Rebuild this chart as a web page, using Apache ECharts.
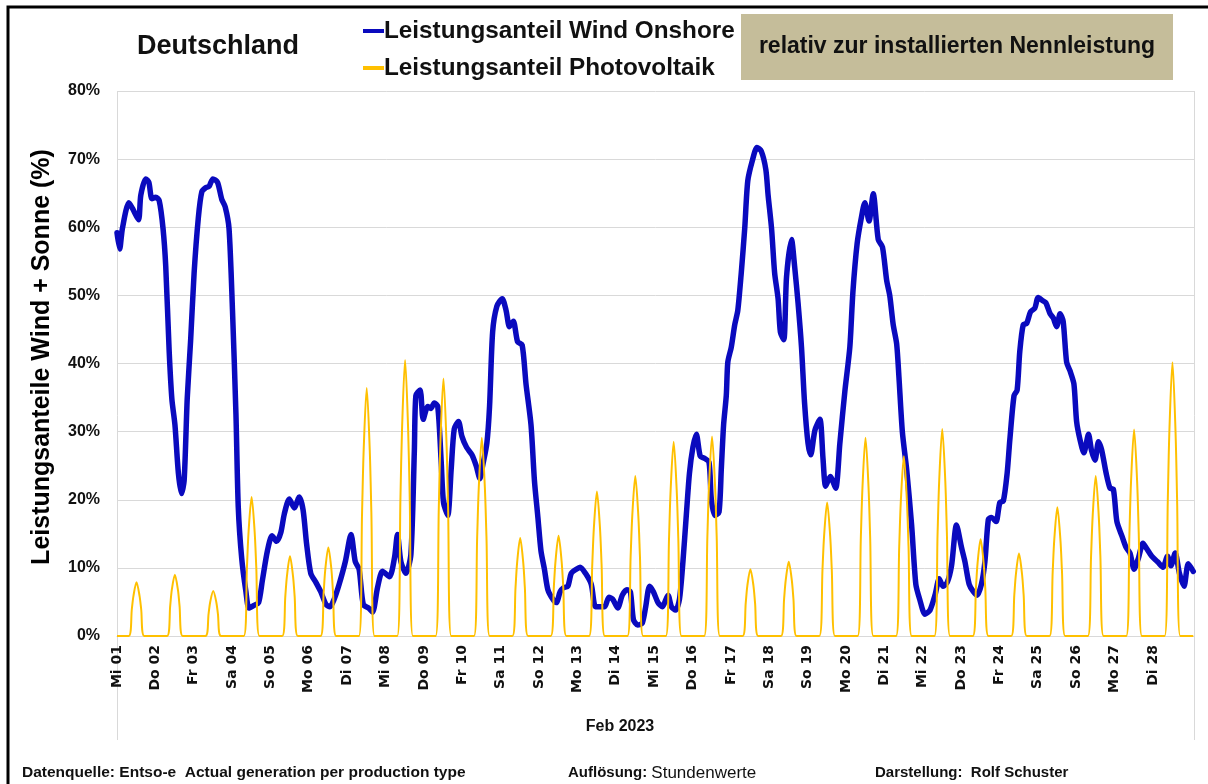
<!DOCTYPE html>
<html>
<head>
<meta charset="utf-8">
<script src="https://cdn.jsdelivr.net/npm/echarts@6/dist/echarts.min.js"></script>
<style>
html,body{margin:0;padding:0;background:#fff;}
#chart{width:1208px;height:784px;}
</style>
</head>
<body>
<div id="chart"></div>
<script>
// ---- data ----
const dayLabels = ['Mi 01','Do 02','Fr 03','Sa 04','So 05','Mo 06','Di 07','Mi 08','Do 09','Fr 10',
  'Sa 11','So 12','Mo 13','Di 14','Mi 15','Do 16','Fr 17','Sa 18','So 19','Mo 20',
  'Di 21','Mi 22','Do 23','Fr 24','Sa 25','So 26','Mo 27','Di 28'];
const yTicks = [0,10,20,30,40,50,60,70,80];

// Wind onshore share [day of month (0 = 01 Feb 00:00), percent]
const windPoints = [
 [0.00,59.2],[0.07,56.8],[0.14,59.8],[0.31,63.6],[0.40,62.8],[0.56,61.1],[0.62,64.7],[0.75,67.1],[0.83,66.6],[0.91,64.2],
 [1.01,64.4],[1.10,63.9],[1.20,59.8],[1.27,54.3],[1.36,41.8],[1.43,34.8],[1.51,31.0],[1.60,23.9],[1.68,20.9],[1.75,22.8],
 [1.83,34.8],[1.92,43.5],[2.01,53.3],[2.12,61.4],[2.21,65.2],[2.31,65.8],[2.40,66.0],[2.50,67.1],[2.62,66.6],[2.73,64.1],
 [2.82,63.0],[2.92,59.8],[3.01,47.8],[3.10,32.6],[3.16,19.0],[3.25,11.4],[3.36,6.5],[3.44,4.1],[3.57,4.5],[3.69,4.9],
 [3.79,8.2],[3.92,12.5],[4.04,14.7],[4.16,13.9],[4.27,15.2],[4.36,17.9],[4.49,20.1],[4.62,18.8],[4.75,20.4],[4.85,18.5],
 [4.94,13.6],[5.05,9.2],[5.18,7.9],[5.31,6.5],[5.45,4.6],[5.55,4.3],[5.66,5.4],[5.79,7.6],[5.95,10.9],[6.10,14.9],
 [6.21,10.9],[6.31,9.8],[6.42,4.6],[6.56,4.1],[6.66,3.5],[6.79,7.1],[6.92,9.5],[7.10,8.7],[7.23,11.4],[7.31,14.9],
 [7.40,10.9],[7.53,9.2],[7.66,12.0],[7.75,27.2],[7.79,35.3],[7.90,36.1],[7.98,31.8],[8.10,33.7],[8.18,33.4],[8.27,34.2],
 [8.36,33.7],[8.45,25.5],[8.51,19.6],[8.62,17.7],[8.71,24.5],[8.79,30.4],[8.90,31.5],[8.99,29.3],[9.11,27.7],[9.25,26.6],
 [9.36,25.0],[9.46,23.1],[9.53,25.0],[9.64,28.3],[9.71,33.7],[9.79,44.6],[9.90,48.4],[10.04,49.5],[10.14,47.8],[10.23,45.4],
 [10.33,46.2],[10.44,43.2],[10.56,42.7],[10.66,37.0],[10.79,31.0],[10.88,22.8],[10.97,17.4],[11.05,12.5],[11.14,9.8],[11.23,6.8],
 [11.36,5.4],[11.45,4.9],[11.55,6.5],[11.64,7.1],[11.75,7.3],[11.84,9.2],[11.97,9.8],[12.07,10.1],[12.21,9.2],[12.36,7.6],
 [12.47,4.3],[12.59,4.3],[12.71,4.3],[12.82,5.7],[12.92,5.4],[13.05,4.1],[13.17,6.0],[13.29,6.8],[13.38,6.5],[13.46,2.4],
 [13.57,1.6],[13.69,1.9],[13.78,4.3],[13.88,7.3],[13.98,6.5],[14.10,4.9],[14.21,4.3],[14.36,6.0],[14.45,4.3],[14.56,3.8],
 [14.66,5.4],[14.75,10.9],[14.84,17.9],[14.92,23.9],[15.01,27.7],[15.10,29.6],[15.20,26.4],[15.31,26.1],[15.43,25.5],[15.49,20.1],
 [15.58,17.7],[15.69,18.2],[15.75,24.5],[15.81,31.0],[15.88,35.3],[15.92,40.2],[16.01,42.4],[16.10,45.7],[16.18,47.8],[16.27,53.3],
 [16.36,59.8],[16.44,66.8],[16.56,69.8],[16.68,71.7],[16.79,71.2],[16.91,68.5],[16.97,64.7],[17.06,59.8],[17.14,53.3],[17.23,49.5],
 [17.29,44.6],[17.38,43.5],[17.45,52.7],[17.58,58.2],[17.66,54.3],[17.75,48.9],[17.84,42.4],[17.92,34.2],[18.01,28.3],[18.08,26.6],
 [18.19,30.2],[18.32,31.8],[18.40,26.1],[18.47,22.0],[18.59,23.4],[18.73,21.7],[18.84,28.3],[18.97,35.9],[19.10,42.4],[19.18,50.5],
 [19.29,57.6],[19.40,61.4],[19.49,63.6],[19.60,60.9],[19.71,64.9],[19.84,58.2],[19.95,57.1],[20.06,52.2],[20.14,50.0],[20.23,45.7],
 [20.32,42.9],[20.38,38.0],[20.47,29.9],[20.58,24.5],[20.71,16.3],[20.82,7.6],[20.92,5.4],[21.06,3.2],[21.19,3.8],[21.32,6.0],
 [21.43,8.4],[21.53,7.3],[21.64,7.9],[21.75,10.3],[21.88,16.3],[22.01,13.0],[22.10,10.9],[22.21,7.6],[22.32,6.5],[22.42,6.0],
 [22.53,7.6],[22.62,10.9],[22.71,17.1],[22.79,17.4],[22.91,16.8],[23.01,19.6],[23.10,19.8],[23.20,23.9],[23.27,28.8],[23.38,35.3],
 [23.46,36.1],[23.53,41.8],[23.62,45.7],[23.71,45.9],[23.81,47.6],[23.92,48.1],[24.01,49.7],[24.13,49.2],[24.21,48.9],[24.32,47.3],
 [24.40,46.7],[24.49,45.4],[24.58,47.3],[24.66,46.2],[24.75,40.2],[24.84,38.9],[24.94,37.0],[25.01,31.5],[25.10,28.8],[25.20,26.9],
 [25.32,29.6],[25.40,27.2],[25.49,25.8],[25.58,28.5],[25.66,27.4],[25.78,23.9],[25.88,21.7],[25.97,21.5],[26.06,16.8],[26.19,14.7],
 [26.30,13.0],[26.40,12.2],[26.51,9.8],[26.62,11.4],[26.74,13.6],[26.84,12.8],[26.97,11.7],[27.12,10.9],[27.26,10.1],[27.38,11.7],
 [27.47,10.3],[27.58,12.2],[27.69,9.2],[27.81,7.3],[27.92,10.6],[28.05,9.5]
];

// Photovoltaik share: hour of day of the sampled points, and per-day values at those hours
const pvHours = [7.3, 9.3, 10.3, 12.2, 14.1, 15.1, 17.1];
const pvDaily = [
 [0,4.0,5.9,7.9,5.9,4.0,0],[0,4.5,6.8,9.0,6.8,4.5,0],[0,3.3,5.0,6.6,5.0,3.3,0],[0,10.2,15.3,20.4,15.3,10.2,0],
 [0,5.9,8.8,11.7,8.8,5.9,0],[0,6.5,9.8,13.0,9.8,6.5,0],[0,18.2,27.3,36.4,27.3,18.2,0],[0,20.3,30.4,40.5,30.4,20.3,0],
 [0,18.9,28.4,37.8,28.4,18.9,0],[0,14.6,21.8,29.1,21.8,14.6,0],[0,7.2,10.8,14.4,10.8,7.2,0],[0,7.4,11.0,14.7,11.0,7.4,0],
 [0,10.6,15.9,21.2,15.9,10.6,0],[0,11.8,17.6,23.5,17.6,11.8,0],[0,14.3,21.4,28.5,21.4,14.3,0],[0,14.7,22.0,29.3,22.0,14.7,0],
 [0,4.9,7.4,9.8,7.4,4.9,0],[0,5.5,8.2,10.9,8.2,5.5,0],[0,9.8,14.7,19.6,14.7,9.8,0],[0,14.6,21.8,29.1,21.8,14.6,0],
 [0,13.2,19.8,26.4,19.8,13.2,0],[0,15.2,22.8,30.4,22.8,15.2,0],[0,7.1,10.7,14.2,10.7,7.1,0],[0,6.1,9.1,12.1,9.1,6.1,0],
 [0,9.5,14.2,18.9,14.2,9.5,0],[0,11.8,17.6,23.5,17.6,11.8,0],[0,15.2,22.7,30.3,22.7,15.2,0],[0,20.1,30.2,40.2,30.2,20.1,0]
];

// ---- build series data (time positions only) ----
const pvPoints = [[0,0]];
pvDaily.forEach((vals, d) => {
  vals.forEach((v, i) => pvPoints.push([d + pvHours[i] / 24, v]));
});
pvPoints.push([28.05, 0]);

const FONT = "'Liberation Sans Narrow','Liberation Sans',Arial,sans-serif";
const chart = echarts.init(document.getElementById('chart'), null, {renderer: 'canvas'});

chart.setOption({
  backgroundColor: '#ffffff',
  animation: false,
  grid: {left: 117, right: 14, top: 91, bottom: 148, containLabel: false},
  legend: {
    orient: 'vertical',
    left: 358, top: 14,
    itemGap: 13,
    itemWidth: 21, itemHeight: 4,
    icon: 'rect',
    textStyle: {fontFamily: FONT, fontWeight: 'bold', fontSize: 24.3, color: '#111', padding: [0,0,0,-5]},
    data: ['Leistungsanteil Wind Onshore', 'Leistungsanteil Photovoltaik']
  },
  xAxis: {
    type: 'value', min: 0, max: 28.07, interval: 1,
    axisLine: {show: true, lineStyle: {color: '#D9D9D9', width: 1}},
    axisTick: {show: false},
    splitLine: {show: false},
    axisLabel: {
      rotate: 90, margin: 9, showMaxLabel: false,
      fontFamily: "'DejaVu Sans',Verdana,sans-serif", fontWeight: 'bold', fontSize: 14, color: '#111',
      formatter: v => dayLabels[Math.round(v)] || ''
    }
  },
  yAxis: {
    type: 'value', min: 0, max: 80, interval: 10,
    axisLine: {show: false}, axisTick: {show: false},
    splitLine: {lineStyle: {color: '#D9D9D9', width: 1}},
    axisLabel: {
      margin: 17, fontFamily: FONT, fontWeight: 'bold', fontSize: 16, color: '#111',
      formatter: v => (yTicks.indexOf(v) >= 0 ? v + '%' : '')
    }
  },
  series: [
    {
      name: 'Leistungsanteil Wind Onshore', type: 'line', data: windPoints,
      showSymbol: false, symbol: 'none', smooth: 0.25,
      lineStyle: {color: '#0A0ABE', width: 5.5, join: 'round', cap: 'round'},
      itemStyle: {color: '#0A0ABE'}, z: 2
    },
    {
      name: 'Leistungsanteil Photovoltaik', type: 'line', data: pvPoints,
      showSymbol: false, symbol: 'none', smooth: 0.3,
      lineStyle: {color: '#FFC000', width: 2, join: 'round'},
      itemStyle: {color: '#FFC000'}, z: 3
    }
  ],
  graphic: [
    {type: 'polyline', silent: true, z: 10, shape: {points: [[8,784],[8,7],[1208,7]]},
     style: {stroke: '#000', lineWidth: 3, fill: null}},
    {type: 'line', silent: true, shape: {x1: 117.5, y1: 91, x2: 117.5, y2: 740}, style: {stroke: '#D9D9D9', lineWidth: 1}},
    {type: 'line', silent: true, shape: {x1: 1194.5, y1: 91, x2: 1194.5, y2: 740}, style: {stroke: '#D9D9D9', lineWidth: 1}},
    {type: 'text', left: 137, top: 33, style: {text: 'Deutschland', font: "bold 27px " + FONT, fill: '#111'}},
    {type: 'rect', shape: {x: 741, y: 14, width: 432, height: 66}, style: {fill: '#C5BD9A'}},
    {type: 'text', x: 957, y: 47, style: {text: 'relativ zur installierten Nennleistung', font: "bold 23px " + FONT,
      fill: '#111', textAlign: 'center', textVerticalAlign: 'middle'}},
    {type: 'text', x: 42, y: 357, rotation: Math.PI / 2,
      style: {text: 'Leistungsanteile Wind + Sonne (%)', font: "bold 25px " + FONT, fill: '#000',
        textAlign: 'center', textVerticalAlign: 'middle'}},
    {type: 'text', x: 620, y: 727, style: {text: 'Feb 2023', font: "bold 16px " + FONT, fill: '#111',
      textAlign: 'center', textVerticalAlign: 'middle'}},
    {type: 'text', x: 22, y: 773, style: {text: 'Datenquelle: Entso-e  Actual generation per production type',
      font: "bold 15.5px " + FONT, fill: '#111', textVerticalAlign: 'middle'}},
    {type: 'text', x: 568, y: 773, style: {
      text: '{b|Auflösung: }{r|Stundenwerte}', textVerticalAlign: 'middle',
      rich: {b: {font: "bold 15px " + FONT, fill: '#111'}, r: {font: "17px " + FONT, fill: '#111'}}}},
    {type: 'text', x: 875, y: 773, style: {text: 'Darstellung:  Rolf Schuster',
      font: "bold 15px " + FONT, fill: '#111', textVerticalAlign: 'middle'}}
  ]
});
</script>
</body>
</html>
